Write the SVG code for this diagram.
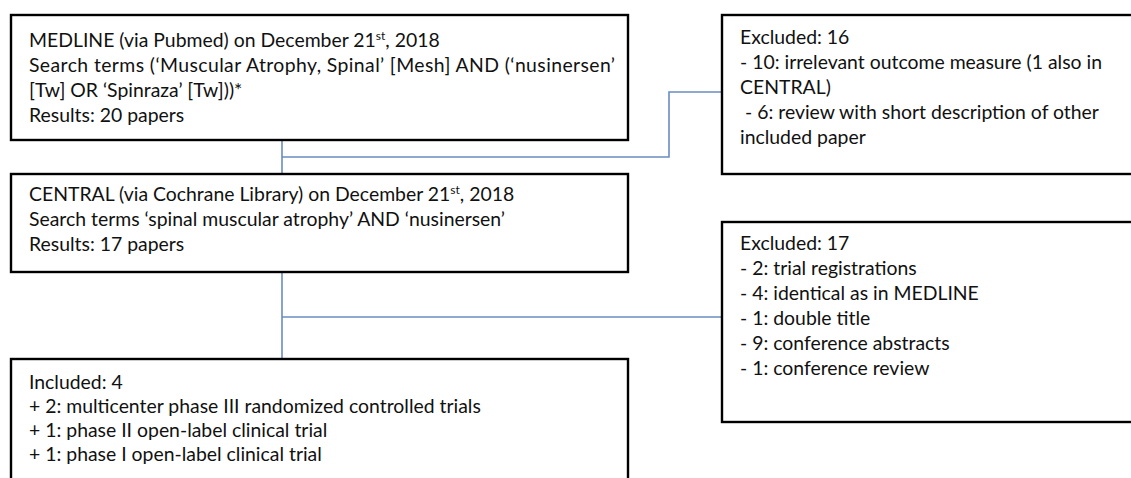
<svg xmlns="http://www.w3.org/2000/svg" width="1131" height="478" viewBox="0 0 1131 478">
<style>
.box{fill:#fff;stroke:#000;stroke-width:2.4}
.t{font-family:Lato,"Liberation Sans",sans-serif;font-size:19.4px;fill:#111}
.sup{font-size:12px}
.c{fill:none;stroke:#6a8cc0;stroke-width:1.6}
</style>
<rect width="1131" height="478" fill="#fff"/>
<g id="connectors">
<polyline class="c" points="282,140 282,173"/>
<polyline class="c" points="282,157 669,157 669,92 722,92"/>
<polyline class="c" points="282,272 282,359"/>
<polyline class="c" points="282,317 722,317"/>
</g>
<g id="medline">
<rect class="box" x="11" y="15" width="617" height="125"/>
<text class="t" x="29" y="47">MEDLINE (via Pubmed) on December 21<tspan class="sup" dy="-7">st</tspan><tspan dy="7">, 2018</tspan></text>
<text class="t" x="29" y="72" textLength="586" lengthAdjust="spacing">Search terms (‘Muscular Atrophy, Spinal’ [Mesh] AND (‘nusinersen’</text>
<text class="t" x="29" y="97">[Tw] OR ‘Spinraza’ [Tw]))*</text>
<text class="t" x="29" y="122">Results: 20 papers</text>
</g>
<g id="excluded16">
<rect class="box" x="722" y="15" width="420" height="159"/>
<text class="t" x="740" y="44">Excluded: 16</text>
<text class="t" x="740" y="69">- 10: irrelevant outcome measure (1 also in</text>
<text class="t" x="740" y="94">CENTRAL)</text>
<text class="t" x="745" y="119">- 6: review with short description of other</text>
<text class="t" x="740" y="144">included paper</text>
</g>
<g id="central">
<rect class="box" x="11" y="174" width="617" height="98"/>
<text class="t" x="29" y="201">CENTRAL (via Cochrane Library) on December 21<tspan class="sup" dy="-7">st</tspan><tspan dy="7">, 2018</tspan></text>
<text class="t" x="29" y="226">Search terms ‘spinal muscular atrophy’ AND ‘nusinersen’</text>
<text class="t" x="29" y="251">Results: 17 papers</text>
</g>
<g id="excluded17">
<rect class="box" x="722" y="222" width="420" height="200"/>
<text class="t" x="740" y="250">Excluded: 17</text>
<text class="t" x="740" y="275">- 2: trial registrations</text>
<text class="t" x="740" y="300">- 4: identical as in MEDLINE</text>
<text class="t" x="740" y="325">- 1: double title</text>
<text class="t" x="740" y="350">- 9: conference abstracts</text>
<text class="t" x="740" y="375">- 1: conference review</text>
</g>
<g id="included">
<rect class="box" x="11" y="359" width="617" height="130"/>
<text class="t" x="29" y="389">Included: 4</text>
<text class="t" x="29" y="413">+ 2: multicenter phase III randomized controlled trials</text>
<text class="t" x="29" y="437">+ 1: phase II open-label clinical trial</text>
<text class="t" x="29" y="461">+ 1: phase I open-label clinical trial</text>
</g>
</svg>
